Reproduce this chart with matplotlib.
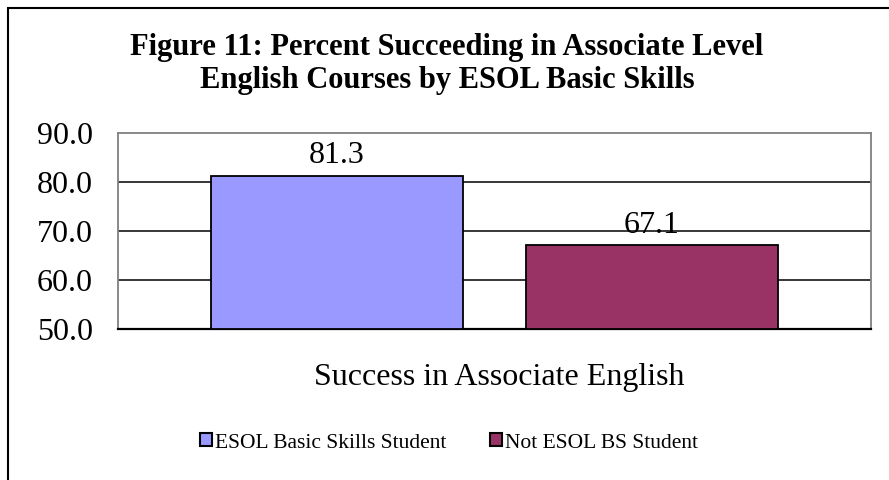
import matplotlib
matplotlib.use("Agg")
import matplotlib.pyplot as plt
from matplotlib.patches import Rectangle, Patch

plt.rcParams['font.family'] = ['Liberation Serif', 'DejaVu Serif']

categories = ["Success in Associate English"]
series_names = ["ESOL Basic Skills Student", "Not ESOL BS Student"]
series_values = [[81.3], [67.1]]
series_colors = ["#9999FF", "#993366"]
yticks = [50.0, 60.0, 70.0, 80.0, 90.0]
title = "Figure 11: Percent Succeeding in Associate Level\nEnglish Courses by ESOL Basic Skills"

W, H = 889, 480
fig = plt.figure(figsize=(W / 100, H / 100), dpi=100)

# outer frame (cropped at right/bottom)
fig.patches.append(Rectangle((7.5 / W, -0.2), 2.0, 1.2 - 7.5 / H, transform=fig.transFigure,
                             fill=False, edgecolor='black', linewidth=1.5))

ax = fig.add_axes([118 / W, 1 - 329 / H, (871 - 118) / W, (329 - 133) / H])

offsets = [-0.209, 0.209]
width = 0.334
for i, (name, vals, col) in enumerate(zip(series_names, series_values, series_colors)):
    xs = [c + offsets[i] for c in range(len(categories))]
    ax.bar(xs, [v - 50 for v in vals], bottom=50, width=width, color=col,
           edgecolor='black', linewidth=1.3, label=name, zorder=3)
    for x, v in zip(xs, vals):
        ax.text(x, v + 1.1, f"{v:.1f}", ha='center', va='bottom', fontsize=23)

ax.set_xlim(-0.5, len(categories) - 0.5)
ax.set_ylim(50, 90)
ax.set_yticks(yticks)
ax.set_yticklabels([f"{t:.1f}" for t in yticks], fontsize=23)
ax.tick_params(axis='y', length=0, pad=18)
ax.set_xticks([])
for t in [60, 70, 80]:
    ax.axhline(t, color='black', linewidth=1.1, zorder=1)
for s in ['top', 'right', 'left']:
    ax.spines[s].set_color('#808080')
    ax.spines[s].set_linewidth(1.3)
ax.spines['bottom'].set_color('black')
ax.spines['bottom'].set_linewidth(1.6)

fig.text(499 / W, 1 - 378 / H, categories[0], ha='center', va='center', fontsize=23)

fig.text(447 / W, 1 - 64 / H, title, ha='center', va='center', fontsize=22,
         fontweight='bold', linespacing=1.17)

handles = [Patch(facecolor=c, edgecolor='black', linewidth=1.5) for c in series_colors]
fig.legend(handles, series_names, loc='center', bbox_to_anchor=(449 / W, 1 - 443 / H),
           ncol=2, frameon=False, fontsize=15.5, handlelength=0.55, handleheight=0.55,
           handletextpad=0.15, columnspacing=2.0)

fig.savefig("out.png", dpi=100)
